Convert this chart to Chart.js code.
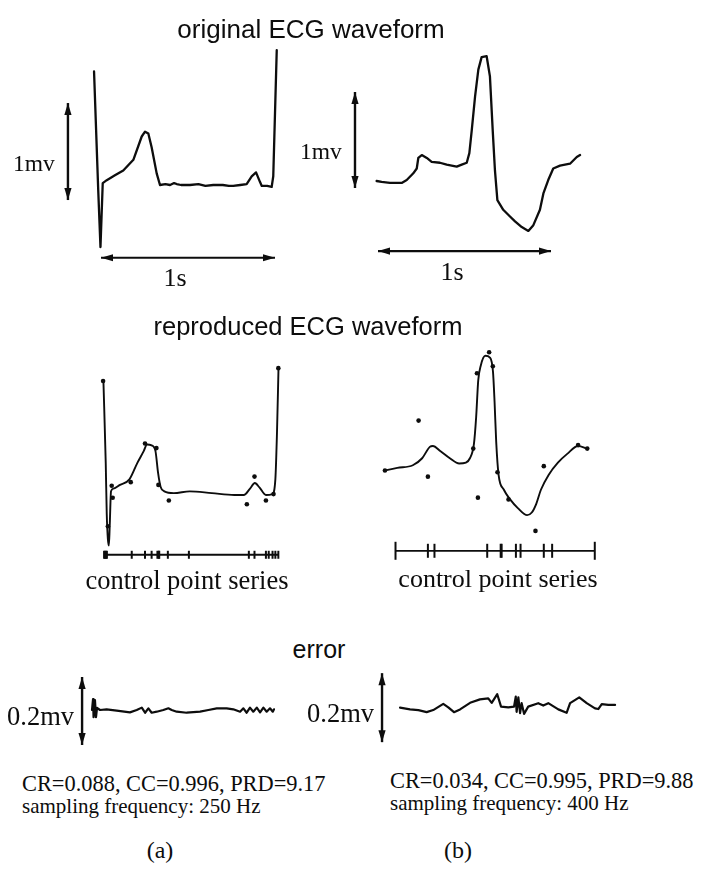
<!DOCTYPE html>
<html><head><meta charset="utf-8">
<script src="https://cdn.jsdelivr.net/npm/chart.js@4.4.1/dist/chart.umd.min.js"></script>
<style>
html,body{margin:0;padding:0;background:#fff;}
#page{position:relative;width:702px;height:870px;overflow:hidden;background:#fff;}
.t{position:absolute;white-space:nowrap;line-height:1;color:#0d0d0d;}
.sans{font-family:"Liberation Sans",Arial,sans-serif;}
.serif{font-family:"Liberation Serif","Times New Roman",serif;}
canvas{position:absolute;}
</style></head><body><div id="page"></div>
<script>
// ---------------- DATA (time in s, amplitude in mV) ----------------
// (a) original ECG
const origA_t  = [-0.040,-0.016,-0.003,0.010,0.033,0.080,0.128,0.186,0.234,0.253,0.272,0.291,0.320,0.339,0.370,0.397,0.420,0.435,0.460,0.511,0.560,0.600,0.645,0.700,0.735,0.760,0.800,0.837,0.866,0.891,0.914,0.924,0.955,0.981,0.990,1.010];
const origA_mv = [1.17,-0.05,-0.64,0.02,0.05,0.10,0.15,0.26,0.50,0.55,0.53,0.39,0.12,0.00,0.01,0.00,0.02,0.01,0.00,0.00,0.01,-0.01,0.00,0.00,-0.01,-0.01,0.00,0.01,0.09,0.13,0.03,-0.01,-0.01,-0.02,0.09,1.39];
// (b) original ECG
const origB_t  = [-0.008,0.021,0.069,0.137,0.166,0.204,0.224,0.233,0.253,0.282,0.310,0.358,0.397,0.455,0.484,0.513,0.528,0.542,0.561,0.580,0.599,0.628,0.647,0.663,0.676,0.690,0.724,0.763,0.792,0.831,0.869,0.898,0.936,0.956,0.984,1.013,1.052,1.110,1.149,1.168];
const origB_mv = [0.00,-0.01,-0.02,-0.02,0.01,0.08,0.13,0.24,0.27,0.24,0.20,0.19,0.17,0.15,0.17,0.19,0.29,0.53,0.88,1.16,1.29,1.30,1.09,0.53,0.11,-0.20,-0.30,-0.37,-0.42,-0.48,-0.52,-0.46,-0.30,-0.13,0.01,0.13,0.16,0.18,0.25,0.27];
// (a) reproduced ECG
const repA_t  = [-0.027,-0.013,-0.007,0.000,0.006,0.011,0.019,0.034,0.073,0.130,0.178,0.217,0.236,0.264,0.287,0.303,0.318,0.341,0.398,0.494,0.628,0.763,0.820,0.858,0.887,0.916,0.954,0.993,1.011,1.021,1.030];
const repA_mv = [1.22,0.33,-0.22,-0.50,-0.57,-0.36,0.02,0.05,0.09,0.15,0.33,0.46,0.53,0.52,0.46,0.22,0.07,0.02,0.00,0.02,0.00,-0.02,-0.02,0.05,0.11,0.06,-0.02,-0.01,0.15,0.67,1.36];
const repA_cp_t  = [-0.029,0.000,0.023,0.029,0.138,0.224,0.293,0.305,0.368,0.839,0.885,0.954,1.000,1.029];
const repA_cp_mv = [1.22,-0.36,0.08,-0.05,0.12,0.54,0.49,0.09,-0.08,-0.12,0.18,-0.08,-0.01,1.36];
const repA_ticks = [-0.023,-0.017,-0.012,-0.006,0.144,0.224,0.264,0.299,0.307,0.310,0.362,0.489,0.851,0.885,0.954,0.971,0.994,1.011,1.029];
// (b) reproduced ECG
const repB_t  = [-0.008,0.069,0.166,0.224,0.272,0.291,0.339,0.397,0.455,0.497,0.522,0.547,0.561,0.574,0.590,0.618,0.647,0.666,0.676,0.686,0.701,0.734,0.773,0.821,0.879,0.908,0.936,0.965,1.013,1.071,1.129,1.197,1.254];
const repB_mv = [0.00,0.03,0.06,0.14,0.27,0.28,0.22,0.14,0.08,0.09,0.14,0.30,0.61,1.03,1.20,1.31,1.29,1.13,0.78,0.33,-0.05,-0.22,-0.33,-0.43,-0.51,-0.48,-0.38,-0.22,-0.05,0.09,0.19,0.28,0.25];
const repB_cp_t  = [-0.008,0.202,0.260,0.543,0.566,0.572,0.642,0.665,0.694,0.763,0.931,0.983,1.197,1.254];
const repB_cp_mv = [0.00,0.57,-0.07,0.25,1.11,-0.31,1.35,1.19,-0.02,-0.33,-0.69,0.05,0.29,0.25];
const repB_ticks = [0.058,0.260,0.301,0.630,0.714,0.720,0.809,0.838,0.983,1.035,1.301];
// (a) error
const errA_t  = [-0.023,-0.017,-0.014,-0.006,0.000,0.006,0.023,0.061,0.119,0.195,0.234,0.263,0.282,0.301,0.320,0.349,0.387,0.416,0.435,0.464,0.521,0.598,0.646,0.694,0.751,0.789,0.828,0.847,0.866,0.885,0.904,0.924,0.943,0.962,0.981,1.000,1.016,1.023];
const errA_mv = [0.000,0.032,-0.021,0.029,-0.021,0.006,0.000,0.002,-0.002,-0.007,0.000,0.007,-0.008,0.005,-0.008,-0.005,0.000,0.005,0.000,-0.005,-0.008,-0.005,0.000,0.005,0.005,0.002,-0.005,0.005,-0.008,0.007,-0.005,0.007,-0.007,0.007,-0.005,0.005,-0.005,0.002];
// (b) error
const errB_t  = [-0.023,0.035,0.083,0.131,0.169,0.227,0.256,0.289,0.324,0.382,0.439,0.487,0.507,0.539,0.561,0.603,0.636,0.646,0.651,0.661,0.671,0.680,0.694,0.718,0.776,0.805,0.834,0.892,0.940,0.960,1.013,1.056,1.104,1.123,1.143,1.181,1.220];
const errB_mv = [0.001,-0.004,-0.006,-0.012,-0.006,0.012,0.002,-0.012,-0.004,0.015,0.025,0.028,0.015,0.040,0.004,0.002,0.004,0.033,-0.011,0.031,-0.015,0.014,-0.017,0.004,0.014,0.007,0.014,-0.004,-0.014,0.014,0.031,0.014,-0.001,-0.003,0.011,0.009,0.009];
// scale bars: 1 s, 1 mV, 0.2 mV
const timeBar = [0, 1];
const mvBar = 1;
const errBar = 0.2;

// ---------------- LAYOUT ----------------
const INK = '#0d0d0d';
const page = document.getElementById('page');
const pts = (xs, ys) => xs.map((x, i) => ({x, y: ys[i]}));

function addText(str, x, baseline, size, fam, align) {
  const d = document.createElement('div');
  d.className = 't ' + fam;
  d.textContent = str;
  d.style.fontSize = size + 'px';
  const k = fam === 'sans' ? 0.8465 : 0.8375;
  d.style.top = (baseline - k * size) + 'px';
  d.style.left = x + 'px';
  if (align === 'center') d.style.transform = 'translateX(-50%)';
  page.appendChild(d);
}

const arrowPlugin = {
  id: 'arrowHeads',
  afterDatasetsDraw(chart) {
    const ctx = chart.ctx;
    chart.data.datasets.forEach((ds, i) => {
      if (!ds.arrowHeads) return;
      const p = chart.getDatasetMeta(i).data;
      const a = p[0], b = p[p.length - 1];
      [[a, b], [b, a]].forEach(([tip, from]) => {
        const ang = Math.atan2(tip.y - from.y, tip.x - from.x);
        const L = ds.headLen || 12, W = ds.headWidth || 3.6;
        const c = Math.cos(ang), s = Math.sin(ang);
        ctx.save();
        ctx.fillStyle = INK;
        ctx.beginPath();
        ctx.moveTo(tip.x, tip.y);
        ctx.lineTo(tip.x - L * c + W * s, tip.y - L * s - W * c);
        ctx.lineTo(tip.x - L * c - W * s, tip.y - L * s + W * c);
        ctx.closePath();
        ctx.fill();
        ctx.restore();
      });
    });
  }
};

function panel(rect, xo, xppu, yo, yppu, datasets) {
  const c = document.createElement('canvas');
  c.width = rect.w; c.height = rect.h;
  c.style.left = rect.l + 'px'; c.style.top = rect.t + 'px';
  c.style.width = rect.w + 'px'; c.style.height = rect.h + 'px';
  page.appendChild(c);
  new Chart(c, {
    type: 'scatter',
    data: {datasets},
    options: {
      responsive: false, animation: false, events: [],
      layout: {padding: 0},
      plugins: {legend: {display: false}, tooltip: {enabled: false}},
      scales: {
        x: {type: 'linear', display: false, min: (rect.l - xo) / xppu, max: (rect.l + rect.w - xo) / xppu},
        y: {type: 'linear', display: false, min: (yo - rect.t - rect.h) / yppu, max: (yo - rect.t) / yppu}
      }
    },
    plugins: [arrowPlugin]
  });
}

const wave = (data, w, smooth) => ({data, showLine: true, borderColor: INK, borderWidth: w, pointRadius: 0, tension: 0,
  cubicInterpolationMode: smooth ? 'monotone' : 'default', clip: false, borderJoinStyle: 'round', borderCapStyle: 'round'});
const arrow = (data, w) => ({data, showLine: true, borderColor: INK, borderWidth: w || 2, pointRadius: 0, clip: false, arrowHeads: true});
const dots = (data) => ({data, showLine: false, pointRadius: 2.3, pointBackgroundColor: INK, pointBorderColor: INK, pointBorderWidth: 0, clip: false});
const ticks = (data, r) => ({data, showLine: true, borderColor: INK, borderWidth: 1.8, pointStyle: 'line', pointRotation: 90,
  pointRadius: r, pointBorderColor: INK, pointBorderWidth: 2, clip: false});

// (a) original
panel({l: 0, t: 40, w: 300, h: 235}, 101, 174, 185, 97, [
  wave(pts(origA_t, origA_mv), 2.3, false),
  arrow(timeBar.map(t => ({x: t, y: -0.75})), 2.2),
  arrow([{x: -0.19, y: 0.845 - mvBar}, {x: -0.19, y: 0.845}], 2.4)
]);
// (b) original
panel({l: 300, t: 40, w: 320, h: 235}, 378, 173, 181, 96, [
  wave(pts(origB_t, origB_mv), 2.3, false),
  arrow(timeBar.map(t => ({x: t, y: -0.73})), 2.2),
  arrow([{x: -0.133, y: 0.927 - mvBar}, {x: -0.133, y: 0.927}], 2.4)
]);
// (a) reproduced
const CTRL_A = -0.67, CTRL_B = -0.917;
panel({l: 60, t: 345, w: 250, h: 230}, 104, 174, 495, 97, [
  wave(pts(repA_t, repA_mv), 1.9, true),
  dots(pts(repA_cp_t, repA_cp_mv)),
  ticks(repA_ticks.map(t => ({x: t, y: CTRL_A})), 4)
]);
// (b) reproduced
panel({l: 340, t: 330, w: 300, h: 250}, 378, 173, 472, 96, [
  wave(pts(repB_t, repB_mv), 1.9, true),
  dots(pts(repB_cp_t, repB_cp_mv)),
  Object.assign(ticks(repB_ticks.map(t => ({x: t, y: CTRL_B})), 8),
    {pointRadius: ctx => (ctx.dataIndex === 0 || ctx.dataIndex === repB_ticks.length - 1) ? 9 : 7})
]);
// (a) error
panel({l: 60, t: 665, w: 240, h: 90}, 96, 174, 710, 340, [
  wave(pts(errA_t, errA_mv), 2.2, false),
  arrow([{x: -0.080, y: 0.097 - errBar}, {x: -0.080, y: 0.097}], 2.4)
]);
// (b) error
panel({l: 360, t: 665, w: 270, h: 90}, 404, 173, 708, 345, [
  wave(pts(errB_t, errB_mv), 2.2, false),
  arrow([{x: -0.127, y: 0.101 - errBar}, {x: -0.127, y: 0.101}], 2.4)
]);

// ---------------- TEXT ----------------
addText('original ECG waveform', 311, 38, 26, 'sans', 'center');
addText('reproduced ECG waveform', 308, 336, 25.5, 'sans', 'center');
addText('error', 319, 658, 25, 'sans', 'center');
addText('1mv', 13, 172, 23.5, 'serif');
addText('1mv', 300, 160, 23.5, 'serif');
addText('1s', 175, 287, 26, 'serif', 'center');
addText('1s', 452, 281, 26, 'serif', 'center');
addText('control point series', 187, 589, 26.5, 'serif', 'center');
addText('control point series', 498, 588, 26, 'serif', 'center');
addText('0.2mv', 7, 725, 26.5, 'serif');
addText('0.2mv', 307, 722, 26.5, 'serif');
addText('CR=0.088, CC=0.996, PRD=9.17', 22, 792, 22.4, 'serif');
addText('sampling frequency: 250 Hz', 22, 814, 21, 'serif');
addText('CR=0.034, CC=0.995, PRD=9.88', 390, 789, 22.4, 'serif');
addText('sampling frequency: 400 Hz', 390, 811, 21, 'serif');
addText('(a)', 160, 858, 24, 'serif', 'center');
addText('(b)', 458, 858, 24, 'serif', 'center');
</script>
</body></html>
